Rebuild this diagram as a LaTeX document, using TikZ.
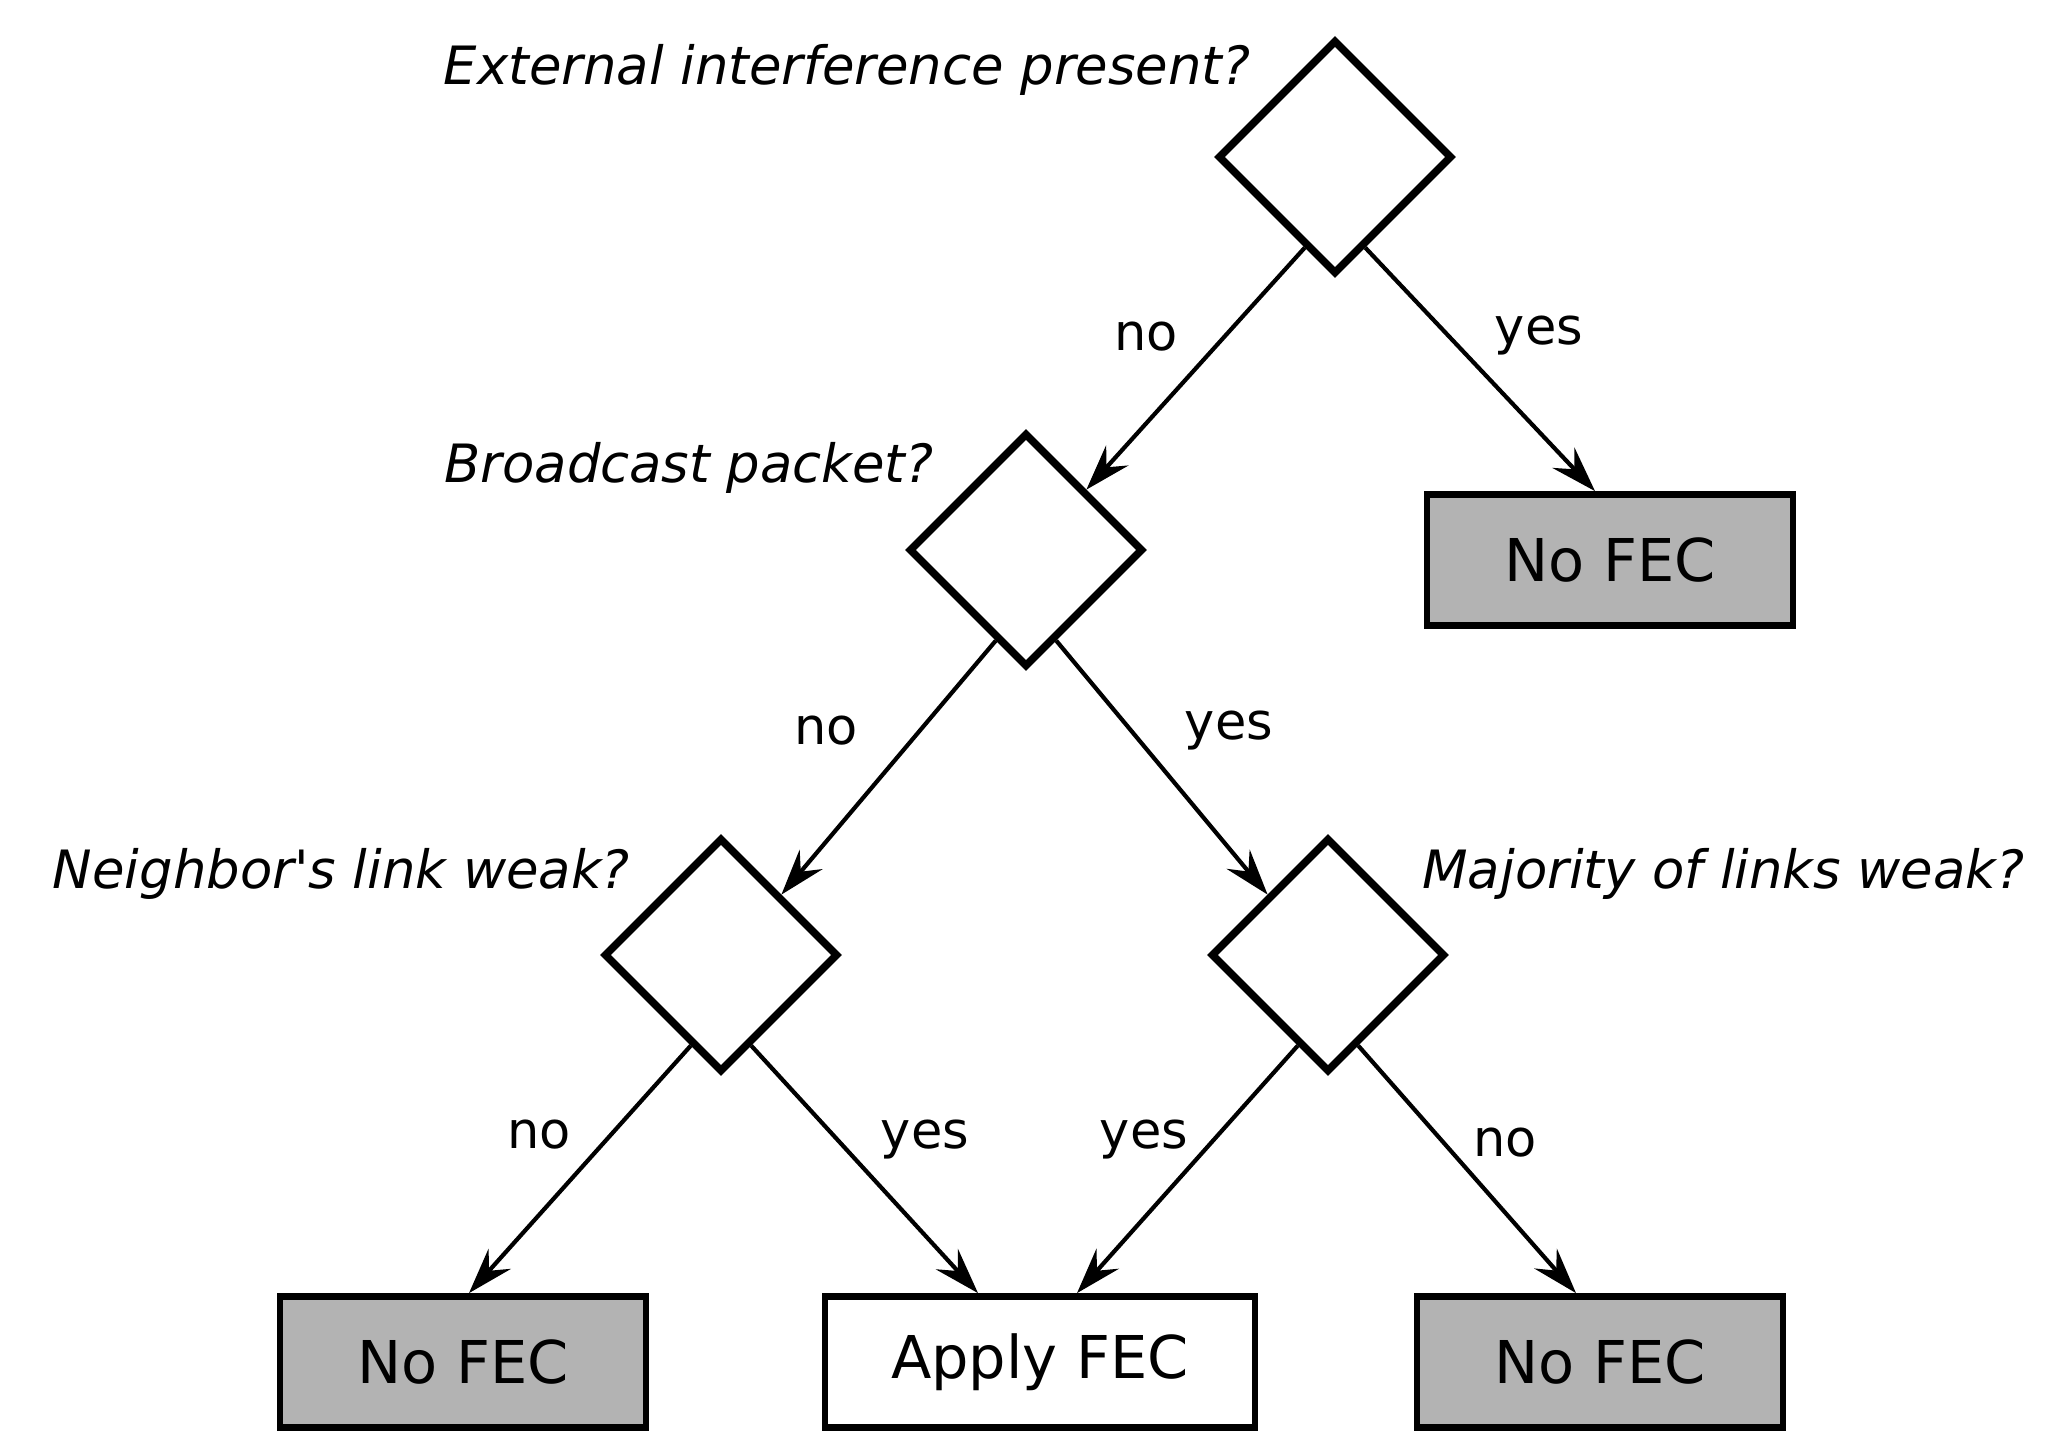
\documentclass[tikz,border=0pt]{standalone}
\usepackage{fontspec}
\setmainfont{DejaVu Sans}
\usetikzlibrary{shapes.geometric,arrows.meta,calc}
\definecolor{boxgray}{RGB}{179,179,179}
\begin{document}
\begin{tikzpicture}[x=0.5pt,y=-0.5pt,
  dec/.style={diamond, draw, line width=3.8pt, minimum width=117pt, minimum height=117pt, inner sep=0pt, aspect=1, fill=white},
  outbox/.style={rectangle, draw, line width=3.4pt, minimum width=183pt, minimum height=65.5pt, inner sep=0pt, font=\fontsize{29.5}{32}\selectfont},
  nofec/.style={outbox, fill=boxgray},
  qlab/.style={font=\fontsize{26.4}{28}\selectfont\itshape, inner sep=0pt},
  elab/.style={font=\fontsize{25.5}{27}\selectfont, inner sep=0pt},
  arr/.style={-{Stealth[length=23pt,width=15pt,inset=8pt]}, line width=2.1pt}
]
\useasboundingbox (0,0) rectangle (2072,1431);

% decisions
\node[dec] (d1) at (1335,157) {};
\node[dec] (d2) at (1026,550) {};
\node[dec] (d3) at (721,955) {};
\node[dec] (d4) at (1328,955) {};

% outcomes
\node[nofec] (b1) at (1610,560) {No FEC};
\node[nofec] (b2) at (463,1362) {No FEC};
\node[outbox, minimum width=215pt, fill=white] (b3) at (1040,1362) {Apply FEC};
\node[nofec] (b4) at (1600,1362) {No FEC};

% questions
\node[qlab, anchor=base east] (q1) at (1251,84) {External interference present?};
\node[qlab, anchor=base east] (q2) at (934,482) {Broadcast packet?};
\node[qlab, anchor=base east] (q3) at (630,888) {Neighbor\textquotesingle s link weak?};
\node[qlab, anchor=base west] (q4) at (1422,888) {Majority of links weak?};

% connectors
\draw[arr] ($(d1.south)!0.25!(d1.west)$) -- ($(d2.north)!0.5!(d2.east)$);
\draw[arr] ($(d1.south)!0.25!(d1.east)$) -- ($(b1.north)+(-15,0)$);
\draw[arr] ($(d2.south)!0.25!(d2.west)$) -- ($(d3.north)!0.5!(d3.east)$);
\draw[arr] ($(d2.south)!0.25!(d2.east)$) -- ($(d4.north)!0.5!(d4.west)$);
\draw[arr] ($(d3.south)!0.25!(d3.west)$) -- ($(b2.north)+(6,0)$);
\draw[arr] ($(d3.south)!0.25!(d3.east)$) -- ($(b3.north)+(-62,0)$);
\draw[arr] ($(d4.south)!0.25!(d4.west)$) -- ($(b3.north)+(37,0)$);
\draw[arr] ($(d4.south)!0.25!(d4.east)$) -- ($(b4.north)+(-24,0)$);

% edge labels
\node[elab] (l1) at (1146,337) {no};
\node[elab] (l2) at (1539,336) {yes};
\node[elab] (l3) at (826,731) {no};
\node[elab] (l4) at (1229,731) {yes};
\node[elab] (l5) at (539,1135) {no};
\node[elab] (l6) at (925,1140) {yes};
\node[elab] (l7) at (1144,1140) {yes};
\node[elab] (l8) at (1505,1143) {no};
\end{tikzpicture}
\end{document}
